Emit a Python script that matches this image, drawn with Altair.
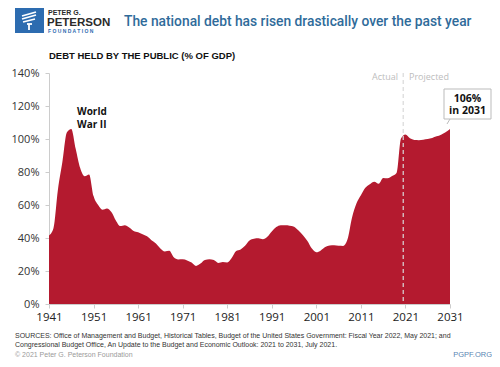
import altair as alt
import pandas as pd

years = list(range(1941, 2032))
debt = [
    41.5, 45.9, 69.2, 86.0, 103.9, 106.1, 93.9, 82.4, 77.4, 78.5,   # 1941-1950
    65.4, 60.1, 57.1, 57.9, 55.7, 50.6, 47.2, 47.7, 46.4, 44.3,     # 1951-1960
    43.5, 42.3, 41.0, 38.7, 36.7, 33.7, 31.8, 32.2, 28.3, 27.0,     # 1961-1970
    27.1, 26.4, 25.1, 23.1, 24.5, 26.7, 27.1, 26.6, 24.9, 25.5,     # 1971-1980
    25.2, 27.9, 32.1, 33.1, 35.3, 38.5, 39.6, 39.8, 39.3, 40.8,     # 1981-1990
    44.0, 46.6, 47.8, 47.7, 47.5, 46.8, 44.5, 41.6, 38.2, 33.6,     # 1991-2000
    31.4, 32.5, 34.5, 35.5, 35.6, 35.3, 35.2, 39.2, 52.3, 60.9,     # 2001-2010
    65.9, 70.4, 72.6, 74.1, 72.9, 76.4, 76.2, 77.6, 79.4, 100.3,    # 2011-2020
    102.7, 100.4, 99.4, 99.3, 99.6, 100.0, 100.6, 101.6, 102.6, 104.1, 106.0,  # 2021-2031
]
x_ticks = list(range(1941, 2032, 10))
y_ticks = list(range(0, 141, 20))

title_text = "The national debt has risen drastically over the past year"
subtitle_text = "DEBT HELD BY THE PUBLIC (% OF GDP)"
source_lines = [
    "SOURCES: Office of Management and Budget, Historical Tables, Budget of the United States Government: Fiscal Year 2022, May 2021; and",
    "Congressional Budget Office, An Update to the Budget and Economic Outlook: 2021 to 2031, July 2021.",
]
copyright_text = "\u00a9 2021 Peter G. Peterson Foundation"
site_text = "PGPF.ORG"

df = pd.DataFrame({"year": years, "debt": debt})

W, H = 401, 231
RED = "#b41a2f"
BLUE = "#2f6b9a"
FONT = "Open Sans"

x_enc = alt.X("year:Q", scale=alt.Scale(domain=[1941, 2031], nice=False, zero=False),
              axis=alt.Axis(values=x_ticks, format="d", title=None, grid=False,
                            labelFontSize=11.5, labelColor="#222", labelPadding=3,
                            labelOverlap=False, labelFlush=False,
                            domainColor="#cccccc", tickColor="#cccccc", tickSize=4,
                            labelFont=FONT))
y_enc = alt.Y("debt:Q", scale=alt.Scale(domain=[0, 140], nice=False),
              axis=alt.Axis(values=y_ticks, labelExpr="datum.value + '%'", title=None, grid=False,
                            labelFontSize=11, labelColor="#333", labelPadding=6,
                            labelOverlap=False, labelFlush=False,
                            domainColor="#cccccc", tickColor="#cccccc", tickSize=4,
                            labelFont=FONT))

area = alt.Chart(df).mark_area(color=RED, interpolate="monotone", opacity=1).encode(x=x_enc, y=y_enc)

divider = alt.Chart(pd.DataFrame({"year": [2020.5]})).mark_rule(
    color="#d9d9d9", strokeDash=[4, 3], strokeWidth=1.2
).encode(x="year:Q", y=alt.value(0), y2=alt.value(H))


def txt(text, x, y, size=10, color="#222", align="left", weight="normal", font=FONT,
        baseline="alphabetic"):
    return alt.Chart(pd.DataFrame({"t": [text]})).mark_text(
        align=align, baseline=baseline, fontSize=size, color=color, fontWeight=weight, font=font
    ).encode(text="t:N", x=alt.value(x), y=alt.value(y))


def P(xp, yp):
    # page pixel -> plot-area coordinates
    return xp - 49, yp - 73


layers = [area, divider]

# Actual / Projected labels
ax, ay = P(398, 80)
layers.append(txt("Actual", ax, ay, size=9, color="#bdbdbd", align="right"))
ax, ay = P(409, 80)
layers.append(txt("Projected", ax, ay, size=9, color="#bdbdbd", align="left"))

# World War II
ax, ay = P(77, 115)
layers.append(txt("World", ax, ay, size=10, weight="bold", color="#111"))
ax, ay = P(77, 127.5)
layers.append(txt("War II", ax, ay, size=10, weight="bold", color="#111"))

# Callout box
bx1, by1 = P(444, 89)
bx2, by2 = P(491, 119)
box = alt.Chart(pd.DataFrame({"a": [0]})).mark_rect(
    fill="white", stroke="#bbbbbb", strokeWidth=1
).encode(x=alt.value(bx1), x2=alt.value(bx2), y=alt.value(by1), y2=alt.value(by2))
layers.append(box)
pointer = alt.Chart(pd.DataFrame({"a": [0]})).mark_rule(color="#bbbbbb", strokeWidth=1).encode(
    x=alt.value(bx1 + 6), x2=alt.value(bx1 + 3), y=alt.value(by2), y2=alt.value(by2 + 5))
layers.append(pointer)
cx = (bx1 + bx2) / 2
layers.append(txt("106%", cx, by1 + 12.5, size=10.5, weight="bold", color="#111", align="center"))
layers.append(txt("in 2031", cx, by1 + 25, size=10.5, weight="bold", color="#111", align="center"))

# Header: logo
lx1, ly1 = P(15, 8)
lx2, ly2 = P(44, 33)
logo = alt.Chart(pd.DataFrame({"a": [0]})).mark_rect(fill="#2d6cb0").encode(
    x=alt.value(lx1), x2=alt.value(lx2), y=alt.value(ly1), y2=alt.value(ly2))
layers.append(logo)
for (xa, ya, xb, yb) in [(22, 16, 36, 12), (22, 19, 36, 15), (23, 22, 35, 19), (27, 24, 32, 24), (29, 24, 29, 30)]:
    a1, b1 = P(xa, ya)
    a2, b2 = P(xb, yb)
    layers.append(alt.Chart(pd.DataFrame({"a": [0]})).mark_rule(color="white", strokeWidth=1.8).encode(
        x=alt.value(a1), x2=alt.value(a2), y=alt.value(b1), y2=alt.value(b2)))

ax, ay = P(48, 14.5)
layers.append(txt("PETER G.", ax, ay, size=7, weight="bold", color="#2b2b2b", font="Liberation Sans"))
ax, ay = P(47, 26)
layers.append(txt("PETERSON", ax, ay, size=11.5, weight="bold", color="#2b2b2b", font="Liberation Sans"))
ax, ay = P(48, 33)
layers.append(txt("F O U N D A T I O N", ax, ay, size=5, weight="bold", color="#2d6cb0",
                  font="Liberation Sans"))

# Title
ax, ay = P(124, 26)
layers.append(txt(title_text, ax, ay, size=13.8, weight=500, color=BLUE, font="Roboto"))

# Subtitle
ax, ay = P(49, 58.5)
layers.append(txt(subtitle_text, ax, ay, size=9.5, weight="bold", color="#111", font="Liberation Sans"))

# Sources
ax, ay = P(15, 338)
layers.append(txt(source_lines[0], ax, ay, size=7, color="#333", font="Liberation Sans"))
ax, ay = P(15, 347)
layers.append(txt(source_lines[1], ax, ay, size=7, color="#333", font="Liberation Sans"))
ax, ay = P(15, 357)
layers.append(txt(copyright_text, ax, ay, size=7, color="#9a9a9a", font="Liberation Sans"))
ax, ay = P(492, 357)
layers.append(txt(site_text, ax, ay, size=7.5, color="#5b86b3", align="right", font="Liberation Sans"))

chart = alt.layer(*layers).properties(
    width=W, height=H,
    padding={"left": 41, "top": 65, "right": 42, "bottom": 55},
    autosize=alt.AutoSizeParams(type="none"),
    background="white",
).configure_view(stroke=None)

chart.save("out.html", embed_options={"renderer": "svg", "actions": False})
